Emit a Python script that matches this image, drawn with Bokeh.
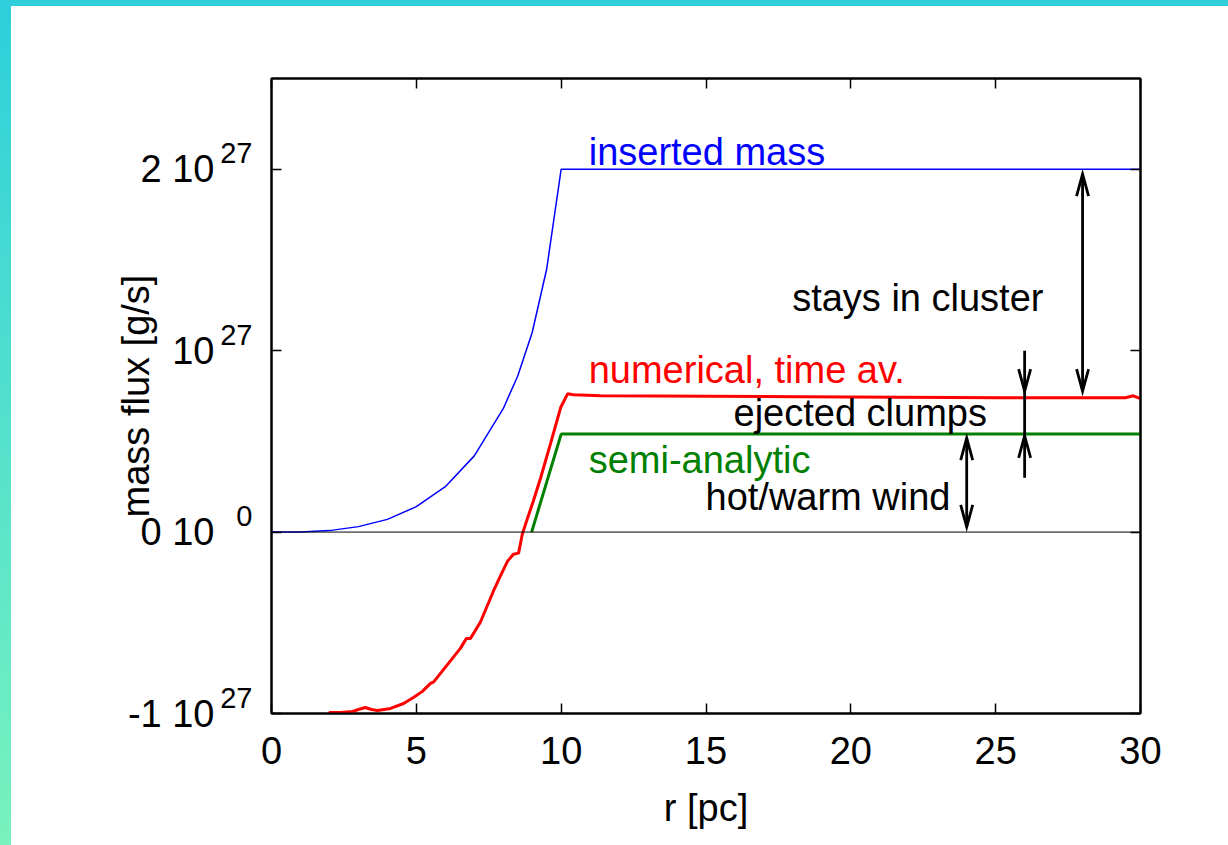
from bokeh.plotting import figure
from bokeh.models import Range1d, LinearAxis, Span, Label, FixedTicker, CustomJSTickFormatter
from bokeh.embed import file_html
from bokeh.resources import INLINE

# ---------------- data (mass flux in units of 1e27 g/s) ----------------
r_inserted = [0.0, 1.0, 2.0, 3.0, 4.0, 5.0, 6.0, 7.0, 8.0, 8.5, 9.0, 9.5, 10.0, 30.0]
m_inserted = [0.0, 0.001, 0.008, 0.03, 0.07, 0.14, 0.25, 0.42, 0.68, 0.86, 1.10, 1.45, 2.0, 2.0]

r_numerical = [2.00, 2.00, 2.38, 2.80, 3.00, 3.24, 3.45, 3.66, 4.11, 4.56, 4.90, 5.21, 5.49, 5.60,
               6.08, 6.52, 6.73, 6.87, 7.21, 7.66, 7.90, 8.15, 8.35, 8.53, 8.66, 8.84, 9.04,
               9.29, 9.63, 9.98, 10.22, 10.42, 11.36, 18.26, 25.16, 29.48, 29.75, 30.0]
m_numerical = [-1.02, -0.995, -0.994, -0.989, -0.978, -0.967, -0.978, -0.983, -0.972, -0.945, -0.912,
               -0.878, -0.834, -0.826, -0.729, -0.641, -0.586, -0.586, -0.497, -0.326, -0.243,
               -0.160, -0.122, -0.116, -0.011, 0.077, 0.171, 0.298, 0.486, 0.685, 0.762, 0.757,
               0.751, 0.746, 0.740, 0.740, 0.751, 0.735]

r_semi = [8.98, 10.0, 30.0]
m_semi = [0.0, 0.54, 0.54]

x_ticks = [0, 5, 10, 15, 20, 25, 30]
y_ticks = [-1, 0, 1, 2]
y_tick_mantissa = ["-1 10", "0 10", "10", "2 10"]
y_tick_exponent = ["27", "0", "27", "27"]

# annotation arrows (r position, lower tip, upper tip)
double_arrow_r = [28.0, 24.0]
double_arrow_lo = [0.777, 0.028]
double_arrow_hi = [1.973, 0.518]
clump_r = 26.0
clump_shaft = [0.30, 1.0]
clump_tip_down = 0.777
clump_tip_up = 0.530

FONT = "Liberation Sans"
FS = "38px"

W, H = 1210, 836
FL, FT, FW, FH = 260, 72, 869, 635
px_r = FW / 30.0
px_m = FH / 3.5

p = figure(width=W, height=H, x_range=Range1d(0, 30), y_range=Range1d(-1, 2.5),
           output_backend="svg", toolbar_location=None,
           min_border_left=FL, min_border_top=FT,
           min_border_right=W - FL - FW, min_border_bottom=H - FT - FH)
p.background_fill_color = "white"
p.border_fill_color = "white"
p.outline_line_color = "black"
p.outline_line_width = 2
p.grid.visible = False

blank = CustomJSTickFormatter(code="return ''")

xa = p.xaxis[0]
xa.ticker = FixedTicker(ticks=x_ticks)
xa.major_tick_in = 10
xa.major_tick_out = 0
xa.minor_tick_line_color = None
xa.axis_line_width = 2
xa.major_tick_line_width = 1.5
xa.major_label_text_font = FONT
xa.major_label_text_font_size = FS
xa.major_label_text_color = "black"
xa.major_label_standoff = 23
xa.axis_label = "r [pc]"
xa.axis_label_text_font = FONT
xa.axis_label_text_font_size = FS
xa.axis_label_text_font_style = "normal"
xa.axis_label_text_color = "black"
xa.axis_label_standoff = 20

ya = p.yaxis[0]
ya.ticker = FixedTicker(ticks=y_ticks)
ya.formatter = blank
ya.major_tick_in = 10
ya.major_tick_out = 0
ya.minor_tick_line_color = None
ya.axis_line_width = 2
ya.major_tick_line_width = 1.5
ya.major_label_text_font_size = "0px"
ya.major_label_standoff = 0

# exponent labels: an axis on a range shifted so labels sit raised (superscript)
shift = 16.0 / px_m
p.extra_y_ranges = {"exp": Range1d(-1 - shift, 2.5 - shift)}
exp_axis = LinearAxis(y_range_name="exp", ticker=FixedTicker(ticks=y_ticks),
                      formatter=CustomJSTickFormatter(args=dict(labels=y_tick_exponent),
                                                      code="return labels[index]"),
                      axis_line_color=None, major_tick_line_color=None, minor_tick_line_color=None,
                      major_tick_in=0, major_tick_out=0, major_label_standoff=19,
                      major_label_text_font=FONT, major_label_text_font_size="29px",
                      major_label_text_color="black")
p.add_layout(exp_axis, "left")

man_axis = LinearAxis(ticker=FixedTicker(ticks=y_ticks),
                      formatter=CustomJSTickFormatter(args=dict(labels=y_tick_mantissa),
                                                      code="return labels[index]"),
                      axis_line_color=None, major_tick_line_color=None, minor_tick_line_color=None,
                      major_tick_in=0, major_tick_out=0, major_label_standoff=3,
                      major_label_text_font=FONT, major_label_text_font_size=FS,
                      major_label_text_color="black",
                      axis_label="mass flux [g/s]", axis_label_text_font=FONT,
                      axis_label_text_font_size=FS, axis_label_text_font_style="normal",
                      axis_label_text_color="black", axis_label_standoff=-32)
p.add_layout(man_axis, "left")

top = LinearAxis(ticker=FixedTicker(ticks=x_ticks), formatter=blank, major_tick_in=10, major_tick_out=0,
                 minor_tick_line_color=None, axis_line_width=2, major_tick_line_width=1.5,
                 major_label_text_font_size="0px", major_label_standoff=0)
p.add_layout(top, "above")
right = LinearAxis(ticker=FixedTicker(ticks=y_ticks), formatter=blank, major_tick_in=10, major_tick_out=0,
                   minor_tick_line_color=None, axis_line_width=2, major_tick_line_width=1.5,
                   major_label_text_font_size="0px", major_label_standoff=0)
p.add_layout(right, "right")

# zero line
p.add_layout(Span(location=0, dimension="width", line_color="black", line_width=1))

# curves
p.line(r_inserted, m_inserted, line_color="#0000ff", line_width=1.5)
p.line(r_numerical, m_numerical, line_color="#ff0000", line_width=3)
p.line(r_semi, m_semi, line_color="#008000", line_width=3)

# arrows
hw = 6.0 / px_r
hl = 22.0 / px_m

def head(x, y, d):
    # d = +1: tip points up, d = -1: tip points down
    return [x - hw, x, x + hw], [y - d * hl, y, y - d * hl]

xs, ys = [], []
for rr, lo, hi in zip(double_arrow_r, double_arrow_lo, double_arrow_hi):
    xs.append([rr, rr]); ys.append([lo, hi])
    hx, hy = head(rr, hi, 1); xs.append(hx); ys.append(hy)
    hx, hy = head(rr, lo, -1); xs.append(hx); ys.append(hy)
xs.append([clump_r, clump_r]); ys.append(clump_shaft)
hx, hy = head(clump_r, clump_tip_down, -1); xs.append(hx); ys.append(hy)
hx, hy = head(clump_r, clump_tip_up, 1); xs.append(hx); ys.append(hy)
p.multi_line(xs=xs, ys=ys, line_color="black", line_width=2.8, line_join="miter")

# text labels
def lab(x, y, text, color, align):
    p.add_layout(Label(x=x, y=y, text=text, text_color=color, text_align=align, y_offset=11,
                       text_baseline="alphabetic", text_font=FONT, text_font_size=FS))

lab(10.95, 2.033, "inserted mass", "#0000ff", "left")
lab(26.65, 1.232, "stays in cluster", "black", "right")
lab(10.95, 0.834, "numerical, time av.", "#ff0000", "left")
lab(24.70, 0.597, "ejected clumps", "black", "right")
lab(10.95, 0.337, "semi-analytic", "#008000", "left")
lab(23.44, 0.133, "hot/warm wind", "black", "right")

template = """
{% block postamble %}
<style>
html { height: 100% !important; margin: 0 !important; padding: 0 !important; overflow: hidden !important;
       background: linear-gradient(to bottom, #2ecfdb 0%, #78f2be 100%) !important; }
body { box-sizing: border-box !important; height: calc(100% - 6px) !important; margin: 6px 0 0 11px !important;
       padding: 0 !important; background: #ffffff !important; overflow: hidden !important; }
</style>
{% endblock %}
"""

open("out.html", "w").write(file_html(p, INLINE, template=template))
